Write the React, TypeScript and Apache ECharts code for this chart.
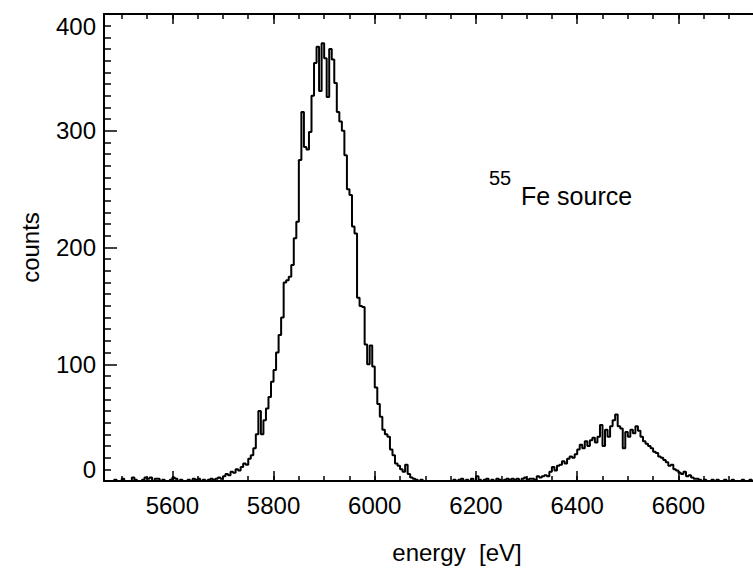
import React, { useEffect, useRef } from "react";
import * as echarts from "echarts";

// Histogram of an 55Fe source spectrum, 5 eV bins starting at 5470 eV
const binStart = 5470;
const binWidth = 5;
const counts = [
  // 5470 - 5565
  0, 0, 0, 1, 0, 0, 2, 0, 0, 0, 3, 1, 0, 0, 1, 3, 2, 3, 0, 2,
  // 5570 - 5665
  2, 0, 1, 0, 0, 1, 3, 2, 0, 1, 0, 0, 1, 0, 2, 1, 2, 0, 1, 0,
  // 5670 - 5765
  1, 2, 1, 2, 3, 2, 4, 6, 5, 8, 7, 10, 9, 12, 15, 14, 19, 22, 28, 40,
  // 5770 - 5865
  60, 40, 52, 62, 72, 85, 95, 110, 125, 140, 170, 172, 175, 185, 208, 222, 275, 316, 286, 284,
  // 5870 - 5965
  299, 330, 358, 372, 334, 375, 362, 329, 370, 361, 341, 316, 308, 300, 279, 250, 245, 218, 212, 157,
  // 5970 - 6065
  150, 149, 117, 100, 116, 98, 80, 66, 55, 44, 40, 38, 27, 22, 15, 13, 10, 8, 14, 6,
  // 6070 - 6165
  3, 2, 1, 0, 1, 0, 0, 0, 0, 0, 0, 0, 0, 0, 0, 0, 0, 1, 0, 1,
  // 6170 - 6265
  2, 0, 1, 0, 2, 0, 4, 1, 0, 1, 2, 0, 1, 0, 2, 1, 0, 1, 2, 1,
  // 6270 - 6365
  2, 1, 2, 0, 2, 3, 1, 2, 2, 1, 4, 3, 4, 5, 4, 8, 12, 9, 13, 14,
  // 6370 - 6465
  17, 15, 19, 21, 20, 23, 27, 31, 28, 34, 30, 35, 37, 33, 38, 48, 30, 44, 38, 47,
  // 6470 - 6565
  52, 57, 47, 45, 28, 42, 38, 44, 41, 47, 43, 38, 34, 32, 30, 28, 25, 24, 21, 20,
  // 6570 - 6665
  18, 16, 13, 14, 10, 9, 7, 6, 8, 4, 5, 3, 2, 2, 1, 0, 1, 0, 0, 1,
  // 6670 - 6765
  0, 1, 0, 0, 1, 0, 0, 1, 0, 0, 0, 1, 0, 0, 1, 0, 0, 0, 0, 0,
];

const xLabelTicks = [5600, 5800, 6000, 6200, 6400, 6600];
const xMajorTicks = [5600, 5800, 6000, 6200, 6400, 6600, 6800];
const xMinorTicks = [
  5500, 5550, 5600, 5650, 5700, 5750, 5800, 5850, 5900, 5950, 6000, 6050, 6100, 6150,
  6200, 6250, 6300, 6350, 6400, 6450, 6500, 6550, 6600, 6650, 6700, 6750, 6800, 6850,
];
const yMin = 0;
const yMax = 400;
const yInterval = 100;
const xMin = 5465;
const xMax = 6860;

const FONT = "'Liberation Sans', Arial, Helvetica, sans-serif";
const FS = 24;

export default function App() {
  const ref = useRef<HTMLDivElement>(null);

  useEffect(() => {
    if (!ref.current) return;
    const chart = echarts.init(ref.current, null, { renderer: "svg" });
    const data = counts.map((c, i) => [binStart + i * binWidth + binWidth / 2, c]);
    const black = "#000";
    const baseX = {
      type: "value",
      min: xMin,
      max: xMax,
      splitLine: { show: false },
    };
    chart.setOption({
      animation: false,
      backgroundColor: "#fff",
      grid: { left: 104, top: 14, width: 706, height: 471, containLabel: false },
      xAxis: [
        {
          ...baseX,
          position: "bottom",
          axisLine: { show: true, lineStyle: { color: black, width: 2 } },
          axisTick: {
            show: true,
            inside: true,
            length: 10,
            customValues: xMajorTicks,
            lineStyle: { color: black, width: 1.5 },
          },
          axisLabel: {
            show: true,
            customValues: xLabelTicks,
            formatter: (v: number) => String(v),
            color: black,
            fontFamily: FONT,
            fontSize: FS,
            margin: 12,
          },
          name: "energy  [eV]",
          nameLocation: "middle",
          nameGap: 59,
          nameTextStyle: { color: black, fontFamily: FONT, fontSize: FS },
        },
        {
          ...baseX,
          position: "bottom",
          axisLine: { show: false },
          axisTick: {
            show: true,
            inside: true,
            length: 5,
            customValues: xMinorTicks,
            lineStyle: { color: black, width: 1.5 },
          },
          axisLabel: { show: false },
        },
        {
          ...baseX,
          position: "top",
          axisLine: { show: true, lineStyle: { color: black, width: 2 } },
          axisTick: {
            show: true,
            inside: true,
            length: 10,
            customValues: xMajorTicks,
            lineStyle: { color: black, width: 1.5 },
          },
          axisLabel: { show: false },
        },
        {
          ...baseX,
          position: "top",
          axisLine: { show: false },
          axisTick: {
            show: true,
            inside: true,
            length: 5,
            customValues: xMinorTicks,
            lineStyle: { color: black, width: 1.5 },
          },
          axisLabel: { show: false },
        },
      ],
      yAxis: [
        {
          type: "value",
          min: yMin,
          max: yMax,
          interval: yInterval,
          position: "left",
          splitLine: { show: false },
          axisLine: { show: true, lineStyle: { color: black, width: 2 } },
          axisTick: { show: true, inside: true, length: 13, lineStyle: { color: black, width: 1.5 } },
          minorTick: { show: true, splitNumber: 10, length: 7, lineStyle: { color: black, width: 1.5 } },
          minorSplitLine: { show: false },
          axisLabel: {
            color: black,
            fontFamily: FONT,
            fontSize: FS,
            margin: 8,
            verticalAlignMinLabel: "bottom",
            verticalAlignMaxLabel: "top",
          },
          name: "counts",
          nameLocation: "middle",
          nameRotate: 90,
          nameGap: 62,
          nameTextStyle: { color: black, fontFamily: FONT, fontSize: FS },
        },
      ],
      graphic: [
        {
          type: "text",
          left: 489,
          top: 168,
          style: { text: "55", fill: black, font: `20px ${FONT}` },
        },
        {
          type: "text",
          left: 521,
          top: 183,
          style: { text: "Fe source", fill: black, font: `25px ${FONT}` },
        },
      ],
      series: [
        {
          type: "line",
          step: "middle",
          xAxisIndex: 0,
          yAxisIndex: 0,
          data,
          symbol: "none",
          clip: true,
          lineStyle: { color: black, width: 2 },
        },
      ],
    });
    return () => chart.dispose();
  }, []);

  return (
    <div
      style={{
        position: "fixed",
        left: 0,
        top: 0,
        width: 753,
        height: 569,
        overflow: "hidden",
        background: "#fff",
      }}
    >
      <div ref={ref} style={{ width: 830, height: 569 }} />
    </div>
  );
}
